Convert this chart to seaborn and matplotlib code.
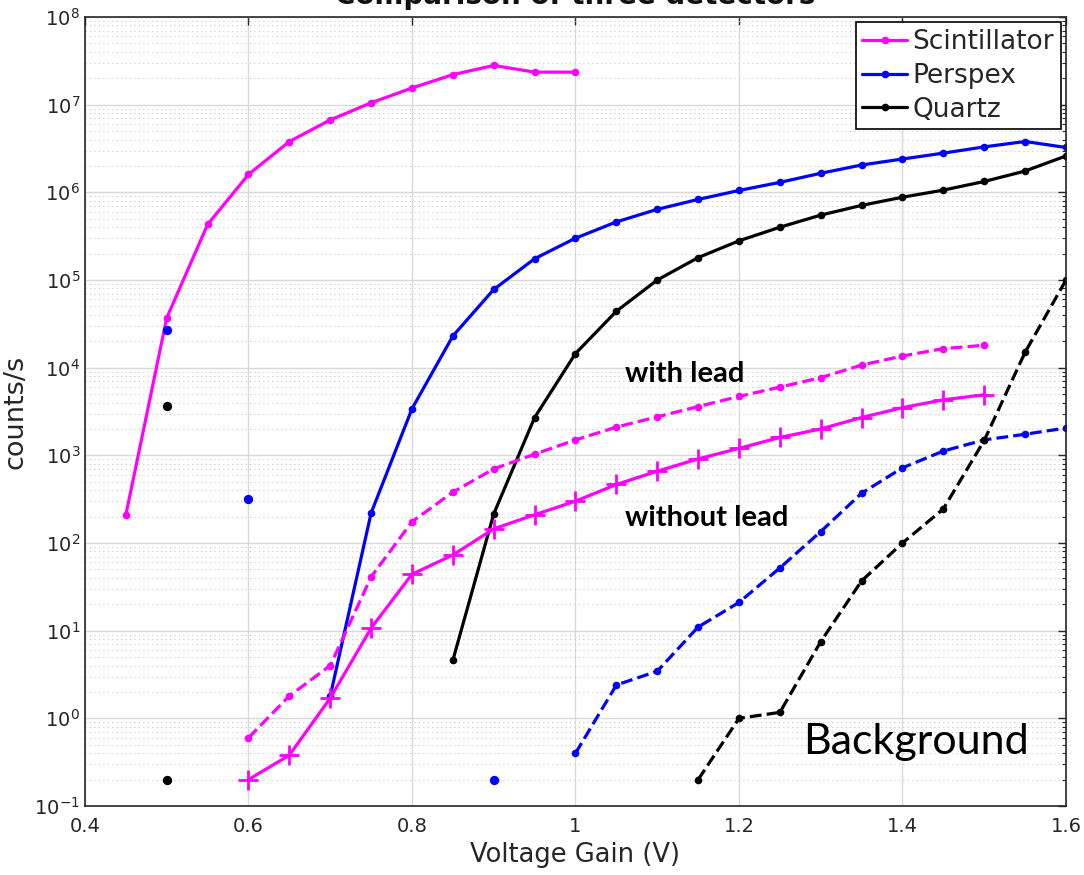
import numpy as np
import pandas as pd
import seaborn as sns
import matplotlib.pyplot as plt
from matplotlib.ticker import LogLocator, NullFormatter, FuncFormatter

# --- detector response (counts/s) vs voltage gain (V) ---
scint_x = [0.45, 0.50, 0.55, 0.60, 0.65, 0.70, 0.75, 0.80, 0.85, 0.90, 0.95, 1.00]
scint_y = [210, 3.7e4, 4.3e5, 1.6e6, 3.8e6, 6.7e6, 1.05e7, 1.55e7, 2.2e7, 2.8e7, 2.35e7, 2.35e7]

persp_x = [0.70, 0.75, 0.80, 0.85, 0.90, 0.95, 1.00, 1.05, 1.10, 1.15, 1.20, 1.25, 1.30,
           1.35, 1.40, 1.45, 1.50, 1.55, 1.60]
persp_y = [1.8, 220, 3.4e3, 2.3e4, 7.8e4, 1.75e5, 3.0e5, 4.6e5, 6.4e5, 8.3e5, 1.05e6, 1.3e6,
           1.65e6, 2.05e6, 2.4e6, 2.8e6, 3.3e6, 3.8e6, 3.25e6]
persp_lone_x = [0.50, 0.60]
persp_lone_y = [2.7e4, 320]

quartz_x = [0.85, 0.90, 0.95, 1.00, 1.05, 1.10, 1.15, 1.20, 1.25, 1.30, 1.35, 1.40, 1.45,
            1.50, 1.55, 1.60]
quartz_y = [4.6, 215, 2.7e3, 1.45e4, 4.4e4, 1.0e5, 1.8e5, 2.8e5, 4.0e5, 5.5e5, 7.1e5, 8.8e5,
            1.06e6, 1.33e6, 1.75e6, 2.6e6]
quartz_lone_x = [0.50]
quartz_lone_y = [3.7e3]

# --- backgrounds ---
lead_x = [0.60, 0.65, 0.70, 0.75, 0.80, 0.85, 0.90, 0.95, 1.00, 1.05, 1.10, 1.15, 1.20, 1.25,
          1.30, 1.35, 1.40, 1.45, 1.50]
lead_y = [0.6, 1.8, 4.0, 41, 175, 380, 700, 1.03e3, 1.5e3, 2.1e3, 2.75e3, 3.6e3, 4.7e3, 6.0e3,
          7.7e3, 1.07e4, 1.36e4, 1.65e4, 1.8e4]

nolead_x = lead_x
nolead_y = [0.2, 0.38, 1.7, 10.7, 44, 73, 145, 210, 300, 465, 660, 910, 1.2e3, 1.6e3, 2.0e3,
            2.7e3, 3.5e3, 4.3e3, 4.9e3]

persp_bg_x = [1.00, 1.05, 1.10, 1.15, 1.20, 1.25, 1.30, 1.35, 1.40, 1.45, 1.50, 1.55, 1.60]
persp_bg_y = [0.4, 2.4, 3.45, 11, 21, 52, 135, 370, 720, 1.12e3, 1.5e3, 1.74e3, 2.05e3]
persp_bg_lone_x = [0.90]
persp_bg_lone_y = [0.2]

quartz_bg_x = [1.15, 1.20, 1.25, 1.30, 1.35, 1.40, 1.45, 1.50, 1.55, 1.60]
quartz_bg_y = [0.2, 1.0, 1.17, 7.5, 37, 100, 245, 1.48e3, 1.5e4, 1.0e5]
quartz_bg_lone_x = [0.50]
quartz_bg_lone_y = [0.2]

MAG, BLUE, BLK = "#ff00ff", "#0000ff", "#000000"
TXT = "#262626"

sns.set_theme(style="whitegrid")
plt.rcParams["font.family"] = ["DejaVu Sans"]

fig = plt.figure(figsize=(10.84, 8.75), dpi=100)
ax = fig.add_axes([85 / 1084, 69 / 875, 981 / 1084, 789 / 875])

lw = 2.3
dot = dict(marker="o", markersize=5.5, markeredgewidth=0)

# main curves
sns.lineplot(x=scint_x, y=scint_y, color=MAG, lw=lw, label="Scintillator", ax=ax, **dot)
sns.lineplot(x=persp_x, y=persp_y, color=BLUE, lw=lw, label="Perspex", ax=ax, **dot)
sns.lineplot(x=quartz_x, y=quartz_y, color=BLK, lw=lw, label="Quartz", ax=ax, **dot)

# background curves
sns.lineplot(x=lead_x, y=lead_y, color=MAG, lw=lw, linestyle="--", ax=ax, **dot)
sns.lineplot(x=nolead_x, y=nolead_y, color=MAG, lw=lw, marker="+", markersize=14,
             markeredgewidth=2, markeredgecolor=MAG, ax=ax)
sns.lineplot(x=persp_bg_x, y=persp_bg_y, color=BLUE, lw=lw, linestyle="--", ax=ax, **dot)
sns.lineplot(x=quartz_bg_x, y=quartz_bg_y, color=BLK, lw=lw, linestyle="--", ax=ax, **dot)

# isolated readings
for xs, ys, c in [(persp_lone_x, persp_lone_y, BLUE), (quartz_lone_x, quartz_lone_y, BLK),
                  (persp_bg_lone_x, persp_bg_lone_y, BLUE),
                  (quartz_bg_lone_x, quartz_bg_lone_y, BLK)]:
    sns.scatterplot(x=xs, y=ys, color=c, s=45, linewidth=0, ax=ax, legend=False, zorder=3)

ax.set_yscale("log")
ax.set_xlim(0.4, 1.6)
ax.set_ylim(1e-1, 1e8)
ax.set_xticks([0.4, 0.6, 0.8, 1.0, 1.2, 1.4, 1.6])
ax.xaxis.set_major_formatter(FuncFormatter(lambda v, p: f"{v:g}"))
ax.yaxis.set_major_locator(LogLocator(base=10, numticks=20))
ax.yaxis.set_minor_locator(LogLocator(base=10, subs=np.arange(2, 10), numticks=20))
ax.yaxis.set_minor_formatter(NullFormatter())

ax.grid(which="major", color="#d9d9d9", lw=1.0, ls="-")
ax.grid(which="minor", axis="y", color="#c8c8c8", lw=0.8, ls=(0, (1, 3)))
ax.set_axisbelow(True)

for s in ax.spines.values():
    s.set_color(TXT)
    s.set_linewidth(1.2)
ax.tick_params(which="both", direction="in", top=True, right=True, colors=TXT,
               labelsize=14, labelcolor=TXT)
ax.tick_params(which="major", length=6, width=1)
ax.tick_params(which="minor", length=3, width=0.8)
ax.tick_params(axis="x", pad=8)

ax.set_xlabel("Voltage Gain (V)", fontsize=18.5, color=TXT, labelpad=4)
ax.set_ylabel("counts/s", fontsize=19.5, color=TXT, labelpad=4)

fig.text(575 / 1084, 1 - 4 / 875, "Comparison of three detectors", ha="center",
         va="baseline", fontsize=20, fontweight="bold", color="#111111")

ax.text(1.06, 6.9e3, "with lead", fontsize=21, fontweight="bold", family="Lato",
        va="baseline", color="black")
ax.text(1.06, 158, "without lead", fontsize=21, fontweight="bold", family="Lato",
        va="baseline", color="black")
ax.text(1.278, 0.39, "Background", fontsize=31, family="Lato", va="baseline", color="black")

leg = ax.legend(loc="upper right", fontsize=19, frameon=True, fancybox=False, framealpha=1,
                edgecolor="black", borderaxespad=0.2, borderpad=0.25, labelspacing=0.3,
                handlelength=1.7, handletextpad=0.2)
leg.get_frame().set_linewidth(1.2)

fig.savefig("out.png", dpi=100)
